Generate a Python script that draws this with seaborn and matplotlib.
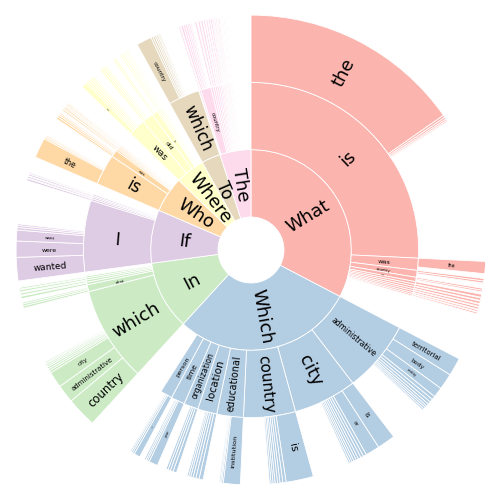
import numpy as np
import matplotlib
matplotlib.use("Agg")
import matplotlib.pyplot as plt
import seaborn as sns

# first word of the question
roots = ["What", "Which", "In", "If", "Who", "Where", "To", "The"]
root_n = [1176, 1049, 399, 309, 207, 170, 110, 180]

# second word ("~k" = rare word, drawn without a label)
second_parent = (["What"] * 11 + ["Which"] * 8 + ["In"] * 6 + ["If"] * 5
                 + ["Who"] * 8 + ["Where"] * 9 + ["To"] + ["The"] * 19)
second_word = (
    ["is", "was", "country", "are"] + [f"~{k}" for k in range(1, 8)]
    + ["administrative", "city", "country", "educational", "location",
       "organization", "time", "person"]
    + ["which", "what"] + [f"~{k}" for k in range(1, 5)]
    + ["I"] + [f"~{k}" for k in range(1, 5)]
    + ["is", "was"] + [f"~{k}" for k in range(1, 7)]
    + ["was", "did", "is"] + [f"~{k}" for k in range(1, 7)]
    + ["which"]
    + ["~1", "country"] + [f"~{k}" for k in range(2, 19)]
)
second_n = (
    [928, 42, 24, 15, 9, 8, 8, 7, 7, 6, 5]
    + [250, 220, 180, 92, 67, 50, 48, 42]
    + [331, 24, 9, 8, 7, 6]
    + [248, 7, 6, 5, 5]
    + [107, 25, 6, 5, 5, 4, 4, 3]
    + [60, 40, 20, 6, 5, 5, 4, 4, 3]
    + [108]
    + [6, 35, 8, 7, 7, 6, 6, 5, 5, 4, 4, 4, 3, 4, 4, 3, 3, 3, 3]
)

# third word
third_parent = (
    ["What is"] * 5 + ["What was"] + ["What country"] * 2 + ["What are"] * 2
    + [f"What ~{k}" for k in range(1, 8)]
    + ["Which administrative"] * 10 + ["Which city"] * 10 + ["Which country"] * 8
    + ["Which educational"] * 4 + ["Which location"] * 6
    + ["Which organization"] * 4 + ["Which time"] * 4 + ["Which person"] * 4
    + ["In which"] * 10 + ["In what"] * 3 + [f"In ~{k}" for k in range(1, 5)]
    + ["If I"] * 6 + [f"If ~{k}" for k in range(1, 5)]
    + ["Who is"] * 4 + ["Who was"] * 4 + [f"Who ~{k}" for k in range(1, 7)]
    + ["Where was"] * 6 + ["Where did"] * 4 + ["Where is"] * 2
    + [f"Where ~{k}" for k in range(1, 7)]
    + ["To which"] * 7
    + ["The ~1"] + ["The country"] * 6 + [f"The ~{k}" for k in range(2, 19)]
)
third_word = (
    ["the"] + ["~"] * 4 + ["the"] + ["~"] * 2 + ["~"] * 2 + ["~"] * 7
    + ["territorial", "body", "entity"] + ["~"] * 7
    + ["is", "or"] + ["~"] * 8
    + ["is"] + ["~"] * 7
    + ["institution"] + ["~"] * 3
    + ["~"] * 6
    + ["~"] * 4
    + ["year"] + ["~"] * 3
    + ["a"] + ["~"] * 3
    + ["country", "administrative", "city"] + ["~"] * 7
    + ["~"] * 3 + ["~"] * 4
    + ["wanted", "were", "want"] + ["~"] * 3
    + ["~"] * 4
    + ["the"] + ["~"] * 3
    + ["~"] * 4 + ["~"] * 6
    + ["the"] + ["~"] * 5
    + ["~"] * 4 + ["~"] * 2 + ["~"] * 6
    + ["country"] + ["~"] * 6
    + ["~"] + ["~"] * 6 + ["~"] * 17
)
third_n = (
    [550, 6, 5, 4, 3] + [30] + [6, 5] + [5, 4] + [7, 6, 6, 5, 5, 4, 4]
    + [45, 40, 25, 9, 8, 7, 6, 5, 5, 4]
    + [45, 35, 8, 7, 7, 6, 6, 5, 5, 4]
    + [68, 8, 7, 6, 6, 5, 5, 4]
    + [42, 4, 3, 3]
    + [10, 8, 7, 6, 5, 4]
    + [9, 7, 6, 5]
    + [22, 5, 4, 4]
    + [15, 5, 4, 3]
    + [75, 45, 40, 6, 5, 5, 4, 4, 3, 3]
    + [6, 5, 4] + [6, 5, 5, 4]
    + [58, 40, 27, 6, 5, 4]
    + [5, 4, 4, 3]
    + [50, 4, 3, 3]
    + [6, 5, 4, 3] + [4, 4, 3, 3, 3, 2]
    + [14, 6, 5, 5, 4, 4]
    + [6, 5, 4, 4] + [5, 4] + [4, 4, 3, 3, 3, 2]
    + [38, 5, 5, 4, 4, 3, 3]
    + [4] + [6, 5, 5, 4, 4, 3]
    + [5, 5, 5, 4, 4, 4, 4, 3, 3, 3, 3, 3, 2, 2, 2, 2, 2]
)
assert len(second_parent) == len(second_word) == len(second_n)
assert len(third_parent) == len(third_word) == len(third_n)


def next_ring(prev, parents, words, counts):
    # children in order under each parent, the rest of the parent left blank
    out = []
    for key, n, root, _ in prev:
        used = 0
        if key is not None:
            for p, w, c in zip(parents, words, counts):
                if p == key:
                    out.append((f"{key} {w}", c, root, w))
                    used += c
        out.append((None, n - used, None, ""))
    return out


sns.set_style("white")
palette = sns.color_palette("Pastel1", len(roots))
root_color = dict(zip(roots, palette))

ring1 = [(r, n, r, r) for r, n in zip(roots, root_n)]
ring2 = next_ring(ring1, second_parent, second_word, second_n)
ring3 = next_ring(ring2, third_parent, third_word, third_n)

fig = plt.figure(figsize=(5.02, 5.02), dpi=100)
ax = fig.add_axes([0, 0, 1, 1])

r0 = 33
width = 67.3


def draw_ring(items, r_out):
    sizes = [it[1] for it in items]
    colors = [root_color[it[2]] if it[2] else "white" for it in items]
    wedges, _ = ax.pie(sizes, radius=r_out, startangle=90, counterclock=False,
                       colors=colors,
                       wedgeprops=dict(width=width, edgecolor="white", linewidth=0.6))
    for wdg, it in zip(wedges, items):
        if it[2] is None:
            wdg.set_visible(False)
            continue
        word = it[3]
        if word.startswith("~"):
            continue
        span = wdg.theta2 - wdg.theta1
        mid = (wdg.theta1 + wdg.theta2) / 2
        mid = (mid + 180) % 360 - 180
        if mid > 90:
            rot = mid - 180
        elif mid < -90:
            rot = mid + 180
        else:
            rot = mid
        rm = r_out - width / 2
        em = min(18, 1.55 * span, 0.95 * width / (0.6 * len(word)))
        ax.text(rm * np.cos(np.radians(mid)), rm * np.sin(np.radians(mid)), word,
                rotation=rot, rotation_mode="anchor", ha="center", va="center",
                fontsize=em * 0.72, color="black")


draw_ring(ring1, r0 + width)
draw_ring(ring2, r0 + 2 * width)
draw_ring(ring3, r0 + 3 * width)

ax.set_xlim(-251, 251)
ax.set_ylim(-251, 251)
ax.set_aspect("equal")
ax.axis("off")

fig.savefig("out.png", dpi=100, facecolor="white")
